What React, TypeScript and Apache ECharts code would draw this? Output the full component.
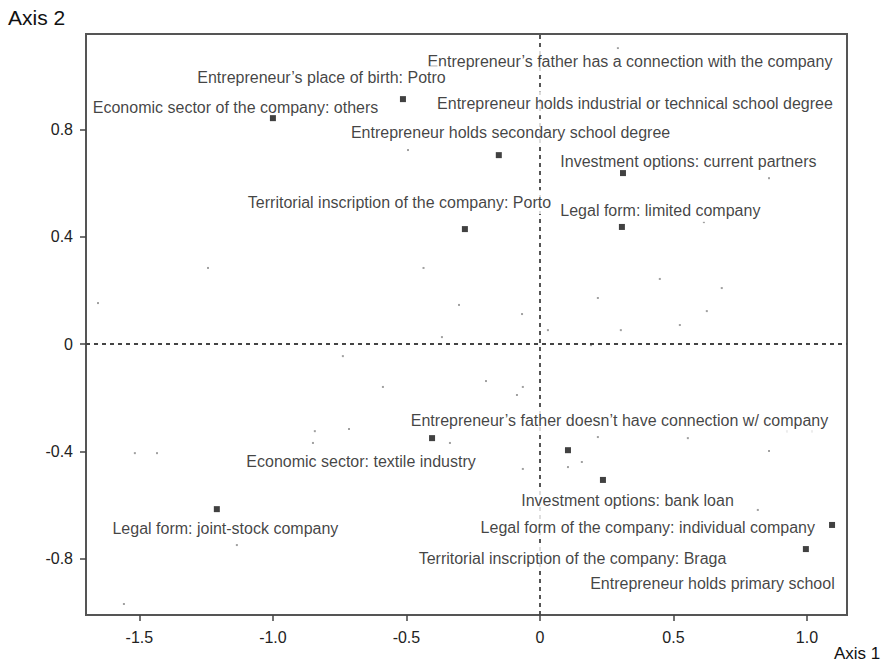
import React, { useEffect, useRef } from "react";
import * as echarts from "echarts";

const xTicks = [-1.5, -1.0, -0.5, 0, 0.5, 1.0];
const yTicks = [-0.8, -0.4, 0, 0.4, 0.8];

// Highlighted categories (black squares): [axis1, axis2]
const keyPoints: [number, number][] = [
  [-1.0, 0.843],
  [-0.513, 0.914],
  [-0.154, 0.705],
  [0.311, 0.638],
  [0.307, 0.437],
  [-0.281, 0.429],
  [-0.404, -0.351],
  [0.105, -0.396],
  [0.236, -0.507],
  [1.094, -0.675],
  [0.996, -0.765],
  [-1.21, -0.616],
];

// Other categories (small grey dots)
const otherPoints: [number, number][] = [
  [-0.494, 0.724], [0.292, 1.104], [0.858, 0.619], [0.614, 0.455],
  [-1.655, 0.153], [-1.243, 0.284], [-0.436, 0.284], [-0.367, 0.026],
  [-0.738, -0.045], [-0.588, -0.16], [-0.843, -0.325], [-0.715, -0.317],
  [-0.85, -0.369], [-0.303, 0.146], [-0.067, 0.112], [0.03, 0.052],
  [0.217, 0.172], [0.449, 0.243], [0.681, 0.209], [0.625, 0.123],
  [0.524, 0.071], [0.303, 0.052], [0.191, -0.004], [-0.202, -0.138],
  [-0.064, -0.16], [-0.086, -0.19], [-0.337, -0.369], [0.217, -0.347],
  [0.554, -0.351], [0.925, -0.325], [1.019, -0.325], [-1.517, -0.407],
  [-1.434, -0.407], [-1.135, -0.75], [-1.558, -0.97], [0.858, -0.399],
  [-0.064, -0.466], [0.105, -0.459], [0.157, -0.44], [0.816, -0.619],
];

// Category labels: [axis1, axis2, text] (text centre)
const labels: [number, number, string][] = [
  [0.337, 1.056, "Entrepreneur’s father has a connection with the company"],
  [-0.818, 0.993, "Entrepreneur’s place of birth: Potro"],
  [-1.14, 0.884, "Economic sector of the company: others"],
  [0.356, 0.899, "Entrepreneur holds industrial or technical school degree"],
  [-0.11, 0.791, "Entrepreneur holds secondary school degree"],
  [0.556, 0.683, "Investment options: current partners"],
  [-0.526, 0.53, "Territorial inscription of the company: Porto"],
  [0.451, 0.5, "Legal form: limited company"],
  [0.298, -0.284, "Entrepreneur’s father doesn’t have connection w/ company"],
  [-0.67, -0.437, "Economic sector: textile industry"],
  [0.328, -0.582, "Investment options: bank loan"],
  [-1.178, -0.69, "Legal form: joint-stock company"],
  [0.404, -0.683, "Legal form of the company: individual company"],
  [0.122, -0.802, "Territorial inscription of the company: Braga"],
  [0.646, -0.892, "Entrepreneur holds primary school"],
];

const FONT = "'Liberation Sans', Arial, Helvetica, sans-serif";
const fmt = (v: number) => (v === 0 ? "0" : v.toFixed(1));

export default function App() {
  const ref = useRef<HTMLDivElement>(null);
  useEffect(() => {
    if (!ref.current) return;
    const chart = echarts.init(ref.current, undefined, { renderer: "svg" });
    const axisCommon = {
      type: "value" as const,
      axisLine: { show: true, onZero: false, lineStyle: { color: "#555", width: 2 } },
      axisTick: { show: true, length: 6, lineStyle: { color: "#444", width: 1.5 } },
      splitLine: { show: false },
      axisLabel: { color: "#222", fontSize: 16, fontFamily: FONT, formatter: fmt },
    };
    chart.setOption({
      animation: false,
      backgroundColor: "#fff",
      grid: {
        left: 86,
        right: 36,
        top: 34,
        bottom: 49,
        show: true,
        borderColor: "#555",
        borderWidth: 2,
      },
      xAxis: {
        ...axisCommon,
        min: -1.7,
        max: 1.15,
        axisTick: { ...axisCommon.axisTick, customValues: xTicks },
        axisLabel: { ...axisCommon.axisLabel, customValues: xTicks, margin: 14 },
      },
      yAxis: {
        ...axisCommon,
        min: -1.011,
        max: 1.157,
        axisTick: { ...axisCommon.axisTick, customValues: yTicks },
        axisLabel: { ...axisCommon.axisLabel, customValues: yTicks, margin: 13 },
      },
      graphic: [
        {
          type: "text",
          left: 8,
          top: 7,
          style: { text: "Axis 2", fontSize: 21, fontFamily: FONT, fill: "#111" },
        },
        {
          type: "text",
          x: 834,
          y: 645,
          style: { text: "Axis 1", fontSize: 17, fontFamily: FONT, fill: "#111" },
        },
      ],
      series: [
        {
          type: "scatter",
          z: 1,
          data: otherPoints,
          symbol: "rect",
          symbolSize: 2,
          itemStyle: { color: "#888" },
          markLine: {
            silent: true,
            symbol: "none",
            label: { show: false },
            lineStyle: { color: "#444", type: [4, 4], width: 1.8 },
            data: [{ xAxis: 0 }, { yAxis: 0 }],
          },
        },
        {
          type: "scatter",
          z: 5,
          symbolSize: 0,
          data: labels.map((l) => ({ value: [l[0], l[1]], name: l[2] })),
          label: {
            show: true,
            position: "inside",
            formatter: (p: any) => p.name,
            color: "#111",
            fontSize: 16,
            fontFamily: FONT,
            backgroundColor: "#fff",
            padding: [4, 3],
          },
        },
        {
          type: "scatter",
          z: 8,
          data: keyPoints,
          symbol: "rect",
          symbolSize: 6,
          itemStyle: { color: "#111" },
        },
      ],
    });
    return () => chart.dispose();
  }, []);
  return (
    <div
      ref={ref}
      style={{ position: "fixed", left: 0, top: 0, width: 883, height: 664 }}
    />
  );
}
